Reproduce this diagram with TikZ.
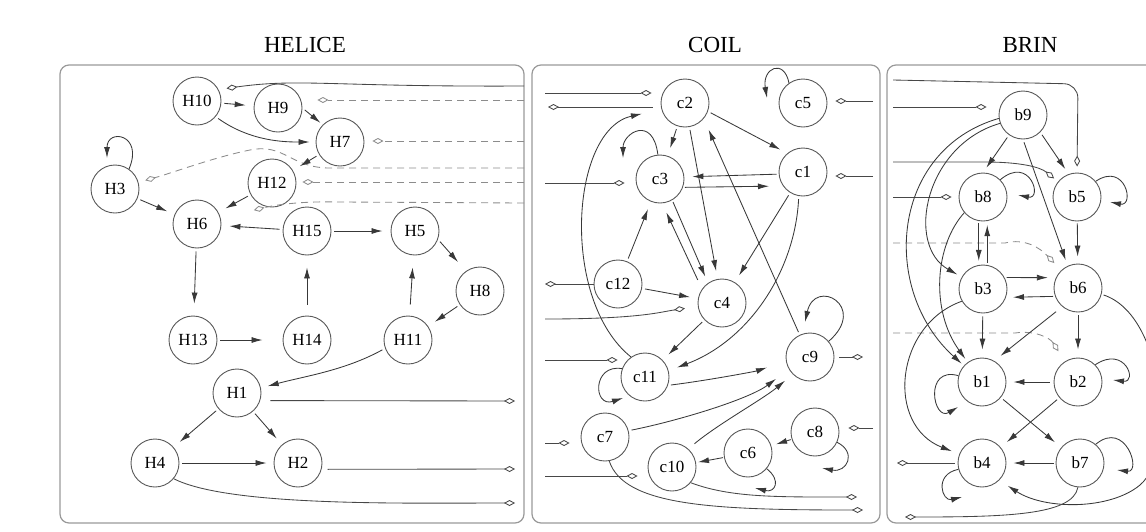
\documentclass[tikz,border=0pt]{standalone}
\usepackage{fontspec}
\setmainfont{Liberation Serif}
\usetikzlibrary{arrows.meta,calc}
\begin{document}
\begin{tikzpicture}[x=1pt,y=-1pt,
  nd/.style={circle,draw=black!65,line width=0.9pt,minimum size=48pt,inner sep=0pt,font=\fontsize{17}{17}\selectfont},
  e/.style={draw=black!78,line width=0.85pt,-{Latex[length=11pt,width=6pt]},shorten <=3pt,shorten >=8pt},
  lp/.style={e,shorten <=0pt,shorten >=0pt},
  ext/.style={draw=black!72,line width=0.85pt,-{Diamond[open,length=11pt,width=6pt]}},
  dext/.style={ext,draw=black!45,dash pattern=on 7pt off 5pt},
  panel/.style={draw=black!40,line width=1.2pt,rounded corners=9pt},
  ttl/.style={font=\fontsize{23}{23}\selectfont,inner sep=1pt}]
\useasboundingbox (0,0) rectangle (1146,531);
\clip (0,0) rectangle (1146,531);

% panels and titles
\draw[panel] (60,65) rectangle (524,523);
\draw[panel] (532,65) rectangle (880,523);
\draw[panel] (887,65) rectangle (1160,523);
\node[ttl] (tHel) at (305,45) {HELICE};
\node[ttl] (tCoil) at (715,45) {COIL};
\node[ttl] (tBrin) at (1030,45) {BRIN};

% ---------------- HELICE ----------------
\node[nd] (H10) at (197,101) {H10};
\node[nd] (H9) at (278,108) {H9};
\node[nd] (H7) at (340,142) {H7};
\node[nd] (H12) at (272,183) {H12};
\node[nd] (H3) at (115,189) {H3};
\node[nd] (H6) at (197,224) {H6};
\node[nd] (H15) at (307,231) {H15};
\node[nd] (H5) at (415,231) {H5};
\node[nd] (H8) at (480,291) {H8};
\node[nd] (H13) at (193,340) {H13};
\node[nd] (H14) at (307,340) {H14};
\node[nd] (H11) at (408,340) {H11};
\node[nd] (H1) at (237,393) {H1};
\node[nd] (H4) at (155,463) {H4};
\node[nd] (H2) at (298,463) {H2};

\coordinate (hin10) at (524,86);
\coordinate (hin9) at (524,100);
\coordinate (hin7) at (524,141);
\coordinate (hin3) at (524,168);
\coordinate (hin12) at (524,182);
\coordinate (hin6) at (524,203);
\coordinate (hout1) at (515,401);
\coordinate (hout2) at (515,469);
\coordinate (hout4) at (515,503);

\draw[ext,shorten >=8pt] (hin10) .. controls (330,87) and (300,78) .. (H10.28);
\draw[dext,shorten >=15pt] (hin9) -- (hin9 -| H9.east);
\draw[dext,shorten >=8pt] (hin7) -- (hin7 -| H7.east);
\draw[dext,shorten >=6pt] (hin12) -- (hin12 -| H12.east);
\draw[dext,shorten >=7pt] (hin3) -- (330,168) .. controls (290,168) and (285,143) .. (250,150) .. controls (215,157) and (175,172) .. (H3);
\draw[dext,shorten >=34pt] (hin6) -- (340,202) .. controls (300,201) and (275,205) .. (H6);

\draw[e] (H10) -- (H9);
\draw[e,shorten >=6pt] (H10.-40) .. controls +(35,25) and +(-30,0) .. (H7.west);
\draw[e,shorten >=3pt] (H9.0) -- (H7.135);
\draw[e] (H7) -- (H12);
\draw[e] (H12) -- (H6);
\draw[e] (H3) -- (H6);
\draw[lp] (H3.55) .. controls +(15,-35) and +(0,-30) .. ($(H3)+(-8,-31)$);
\draw[e] (H15) -- (H6);
\draw[e] (H15) -- (H5);
\draw[e,shorten >=12pt] (H5.-20) -- (H8.125);
\draw[e,shorten >=12pt] (H6) -- (H13);
\draw[e,shorten >=20pt] (H13) -- (H14);
\draw[e,shorten <=11pt,shorten >=12pt] (H14) -- (H15);
\draw[e,shorten <=11pt,shorten >=12pt] (H11) -- (H5);
\draw[e] (H8) -- (H11);
\draw[e,shorten >=7pt] (H11.200) .. controls +(-40,22) and +(45,-12) .. (H1.12);
\draw[e] (H1) -- (H4);
\draw[e] (H1) -- (H2);
\draw[e,shorten >=7pt] (H4) -- (H2);
\draw[ext,shorten <=10pt] (H1.-18) -- (hout1);
\draw[ext,shorten <=6pt] (H2.-15) -- (hout2);
\draw[ext] (H4.-40) .. controls +(55,28) and +(-110,0) .. (hout4);

% ---------------- COIL ----------------
\node[nd] (c2) at (685,103) {c2};
\node[nd] (c5) at (803,103) {c5};
\node[nd] (c3) at (660,179) {c3};
\node[nd] (c1) at (803,172) {c1};
\node[nd] (c12) at (618,284) {c12};
\node[nd] (c4) at (722,303) {c4};
\node[nd] (c9) at (810,357) {c9};
\node[nd] (c11) at (645,377) {c11};
\node[nd] (c7) at (605,437) {c7};
\node[nd] (c8) at (815,432) {c8};
\node[nd] (c6) at (748,453) {c6};
\node[nd] (c10) at (672,467) {c10};

\coordinate (cin2) at (545,93);
\coordinate (cout2) at (548,107);
\coordinate (cin3) at (545,183);
\coordinate (cout12) at (545,284);
\coordinate (cin4) at (545,319);
\coordinate (cin11) at (545,360);
\coordinate (cin7) at (545,443);
\coordinate (cin10) at (545,476);
\coordinate (cout10) at (857,497);
\coordinate (cout7) at (863,510);
\coordinate (cin5) at (873,101);
\coordinate (cin1) at (873,176);
\coordinate (cout9) at (863,357);
\coordinate (cin8) at (873,428);

\draw[ext,shorten >=9pt] (cin2) -- (cin2 -| c2.west);
\draw[ext,shorten <=8pt] (cout2 -| c2.west) -- (cout2);
\draw[ext,shorten >=11pt] (cin3) -- (cin3 -| c3.west);
\draw[ext] (c12.west) -- (cout12);
\draw[ext,shorten >=13pt] (cin4) .. controls (640,319) and (660,312) .. (c4);
\draw[ext,shorten >=3pt] (cin11) -- (cin11 -| c11.west);
\draw[ext,shorten >=11pt] (cin7) -- (cin7 -| c7.west);
\draw[ext,shorten >=10pt] (cin10) -- (cin10 -| c10.west);
\draw[ext,shorten >=8pt] (cin5) -- (cin5 -| c5.east);
\draw[ext,shorten >=8pt] (cin1) -- (cin1 -| c1.east);
\draw[ext,shorten >=9pt] (cin8) -- (cin8 -| c8.east);
\draw[ext,shorten <=5pt] (c9.east) -- (cout9);
\draw[ext] (c10.-40) .. controls +(40,15) and +(-80,0) .. (cout10);
\draw[ext] (c7.-80) .. controls +(15,45) and +(-150,0) .. (cout7);

\draw[e] (c2) -- (c3);
\draw[e] (c2.-20) -- (c1.130);
\draw[e] (c2) -- (c4);
\draw[e,shorten >=12pt] (c9.115) -- (c2.-40);
\draw[e,shorten <=2pt,shorten >=8pt] (c1.185) -- (c3.5);
\draw[e,shorten <=2pt,shorten >=14pt] (c3.-20) -- (c1.215);
\draw[e,shorten <=2pt,shorten >=7pt] (c3.-60) -- (c4.125);
\draw[e,shorten <=10pt,shorten >=10pt] (c4.145) -- (c3.-85);
\draw[e] (c12) -- (c3);
\draw[e] (c12) -- (c4);
\draw[e] (c1) -- (c4);
\draw[e,shorten >=9pt] (c1.-100) .. controls (795,270) and (750,340) .. (c11.15);
\draw[e] (c4) -- (c11);
\draw[e,shorten >=20pt] (c11.-20) .. controls +(40,-5) and +(-30,10) .. (c9.190);
\draw[e,shorten >=16pt] (c7.15) .. controls +(50,-10) and +(-40,30) .. (c9.210);
\draw[e,shorten <=8pt,shorten >=10pt] (c10.48) .. controls +(30,-25) and +(-30,25) .. (c9.225);
\draw[lp] (c9.40) .. controls +(40,-35) and +(10,-45) .. ($(c9)+(-5,-35)$);
\draw[e,shorten <=1pt,shorten >=5pt] (c8) -- (c6);
\draw[lp] (c8.-25) .. controls +(20,10) and +(25,5) .. ($(c8)+(7,36)$);
\draw[e,shorten <=1pt,shorten >=2pt] (c6) -- (c10);
\draw[lp] (c6.-40) .. controls +(15,12) and +(20,5) .. ($(c6)+(7,35)$);
\draw[lp] (c11.160) .. controls +(-30,-5) and +(-30,10) .. ($(c11)+(-22,21)$);
\draw[lp] (c5.125) .. controls +(-5,-25) and +(-5,-30) .. ($(c5)+(-36,-5)$);
\draw[lp] (c3.95) .. controls +(-5,-40) and +(0,-25) .. ($(c3)+(-37,-21)$);
\draw[e,shorten <=0pt,shorten >=20pt] (c11.125) .. controls (560,300) and (570,130) .. (c2.195);

% ---------------- BRIN ----------------
\node[nd] (b9) at (1023,115) {b9};
\node[nd] (b8) at (983,197) {b8};
\node[nd] (b5) at (1077,197) {b5};
\node[nd] (b3) at (983,289) {b3};
\node[nd] (b6) at (1078,288) {b6};
\node[nd] (b1) at (982,382) {b1};
\node[nd] (b2) at (1078,382) {b2};
\node[nd] (b4) at (982,463) {b4};
\node[nd] (b7) at (1080,463) {b7};

\coordinate (bin5a) at (893,80);
\coordinate (bin9) at (893,107);
\coordinate (bin5b) at (893,162);
\coordinate (bin8) at (893,197);
\coordinate (bd6) at (893,243);
\coordinate (bd2) at (893,333);
\coordinate (bout4) at (897,463);
\coordinate (bout7) at (905,517);

\draw[ext,rounded corners=14pt,shorten >=6pt] (bin5a) -- (1078,84) -- (b5.north);
\draw[ext,shorten >=12pt] (bin9) -- (bin9 -| b9.west);
\draw[ext,shorten >=5pt] (bin5b) -- (985,162) .. controls (1020,162) and (1040,167) .. (b5);
\draw[ext,shorten >=7pt] (bin8) -- (b8.west);
\draw[dext,shorten >=10pt] (bd6) -- (1005,243) .. controls (1025,238) and (1040,248) .. (b6);
\draw[dext,shorten >=12pt] (bd2) -- (1015,333) .. controls (1035,330) and (1050,338) .. (b2);

\draw[e,shorten >=6pt] (b9.235) -- (b8.north);
\draw[e,shorten >=6pt] (b9.-45) -- (b5.110);
\draw[e,shorten >=6pt] (b9.-90) -- (b6.115);
\draw[e,shorten <=0pt,shorten >=5pt] (b9.200) .. controls (925,145) and (905,245) .. (b3);
\draw[e,shorten <=0pt,shorten >=3pt] (b9.188) .. controls (890,150) and (880,290) .. (b1);
\draw[e,shorten <=0pt,shorten >=4pt] (b8.220) .. controls (935,245) and (930,310) .. (b1);
\draw[e,shorten <=2pt,shorten >=4pt] (b8.-100) -- (b3.100);
\draw[e,shorten <=2pt,shorten >=4pt] (b3.80) -- (b8.-80);
\draw[lp] (b8.45) .. controls +(30,-25) and +(25,5) .. ($(b8)+(35,-2)$);
\draw[lp] (b5.40) .. controls +(30,-20) and +(25,5) .. ($(b5)+(33,5)$);
\draw[e,shorten <=2pt,shorten >=7pt] (b5) -- (b6);
\draw[e,shorten <=2pt,shorten >=8pt] (b3.28) -- (b6.155);
\draw[e,shorten <=2pt,shorten >=7pt] (b6.200) -- (b3.-20);
\draw[e,shorten <=0pt,shorten >=8pt] (b3.210) .. controls (895,325) and (885,425) .. (b4);
\draw[e] (b3) -- (b1);
\draw[e,shorten <=8pt,shorten >=8pt] (b6.230) -- (b1.60);
\draw[e] (b6) -- (b2);
\draw[e,shorten <=4pt,shorten >=7pt] (b2) -- (b1);
\draw[lp] (b2.45) .. controls +(30,-20) and +(25,3) .. ($(b2)+(35,-2)$);
\draw[lp] (b1.165) .. controls +(-35,-10) and +(-25,15) .. ($(b1)+(-24,25)$);
\draw[e] (b1) -- (b7);
\draw[e] (b2) -- (b4);
\draw[e,shorten <=2pt,shorten >=7pt] (b7) -- (b4);
\draw[ext,shorten <=3pt] (b4.west) -- (bout4);
\draw[lp] (b4.195) .. controls +(-25,5) and +(-20,5) .. ($(b4)+(-20,34)$);
\draw[lp] (b7.50) .. controls +(30,-25) and +(25,3) .. ($(b7)+(37,7)$);
\draw[e,shorten <=2pt,shorten >=10pt] (b6.-15) .. controls (1165,315) and (1176,455) .. (1140,485) .. controls (1110,510) and (1045,510) .. (b4.-45);
\draw[ext] (b7.-95) .. controls +(-5,28) and +(100,0) .. (bout7);
\end{tikzpicture}
\end{document}
